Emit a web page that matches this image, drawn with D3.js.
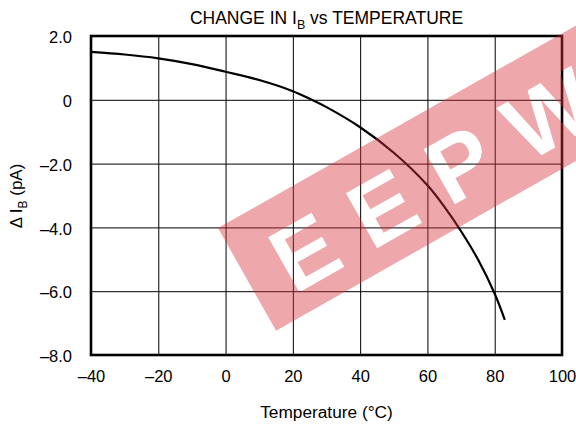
<!DOCTYPE html>
<html><head><meta charset="utf-8">
<script src="https://cdn.jsdelivr.net/npm/d3@7"></script>
<style>body{margin:0;background:#fff}svg{display:block}text{font-family:"Liberation Sans",Arial,sans-serif}</style>
</head><body><svg id="c" width="576" height="425"></svg>
<script>
const temps  = [-40, -30, -20, -10, 0, 10, 20, 25, 30, 40, 50, 60, 65, 70, 75, 80, 83];
const deltaIB = [1.5, 1.42, 1.3, 1.12, 0.88, 0.62, 0.27, 0.03, -0.23, -0.86, -1.66, -2.68, -3.35, -4.12, -5.0, -6.08, -6.9];
const xTicks = [-40, -20, 0, 20, 40, 60, 80, 100];
const xTickLabels = ["–40", "–20", "0", "20", "40", "60", "80", "100"];
const yTicks = [-8, -6, -4, -2, 0, 2];
const yTickLabels = ["–8.0", "–6.0", "–4.0", "–2.0", "0", "2.0"];

const svg = d3.select("#c");
const FONT = "Liberation Sans, Arial, sans-serif";
const L = 91, R = 562, T = 36, B = 355;
const x = d3.scaleLinear().domain([-40, 100]).range([L, R]);
const y = d3.scaleLinear().domain([-8, 2]).range([B, T]);

// grid
const gx = svg.append("g").attr("transform", `translate(0,${B})`)
  .call(d3.axisBottom(x).tickValues(xTicks).tickSize(-(B - T)).tickFormat(""));
gx.select(".domain").remove();
gx.selectAll("line").attr("stroke", "#000").attr("stroke-width", 1);
const gy = svg.append("g").attr("transform", `translate(${L},0)`)
  .call(d3.axisLeft(y).tickValues(yTicks).tickSize(-(R - L)).tickFormat(""));
gy.select(".domain").remove();
gy.selectAll("line").attr("stroke", "#000").attr("stroke-width", 1);

// curve
svg.append("path").datum(temps.map((t, i) => [t, deltaIB[i]]))
  .attr("fill", "none").attr("stroke", "#000").attr("stroke-width", 2.2)
  .attr("d", d3.line().x(d => x(d[0])).y(d => y(d[1])).curve(d3.curveCatmullRom));

// border
svg.append("rect").attr("x", L).attr("y", T).attr("width", R - L).attr("height", B - T)
  .attr("fill", "none").attr("stroke", "#000").attr("stroke-width", 2.6);

// watermark (pink band with knocked-out letters)
const wmT = "translate(218,228) rotate(-29.5)";
const m = svg.append("defs").append("mask").attr("id", "wm")
  .attr("maskUnits", "userSpaceOnUse").attr("x", 0).attr("y", 0).attr("width", 576).attr("height", 425);
const mg = m.append("g").attr("transform", wmT);
mg.append("rect").attr("x", 0).attr("y", 0).attr("width", 520).attr("height", 118).attr("fill", "#fff");
mg.append("text").attr("x", 33).attr("y", 96).attr("font-size", 92).attr("font-weight", "bold")
  .attr("font-family", FONT).attr("letter-spacing", 28).attr("fill", "#000").text("EEPW");
svg.append("rect").attr("x", 0).attr("y", 0).attr("width", 576).attr("height", 425)
  .attr("fill", "#d9303a").attr("opacity", 0.42).attr("mask", "url(#wm)");

// axis tick labels
const ax = svg.append("g").attr("transform", `translate(0,${B + 12})`)
  .call(d3.axisBottom(x).tickValues(xTicks).tickSize(0).tickFormat((d, i) => xTickLabels[i]));
ax.select(".domain").remove();
ax.selectAll("text").attr("font-size", 16.5).attr("fill", "#000").attr("font-family", FONT).attr("dy", "0.71em");
const ay = svg.append("g").attr("transform", `translate(${L - 16},1.5)`)
  .call(d3.axisLeft(y).tickValues(yTicks).tickSize(0).tickFormat((d, i) => yTickLabels[i]));
ay.select(".domain").remove();
ay.selectAll("text").attr("font-size", 16.5).attr("fill", "#000").attr("font-family", FONT);

// title
const title = svg.append("text").attr("x", (L + R) / 2).attr("y", 24).attr("text-anchor", "middle")
  .attr("font-size", 17.5);
title.append("tspan").text("CHANGE IN I");
title.append("tspan").attr("font-size", 12.5).attr("dy", 5).text("B");
title.append("tspan").attr("dy", -5).text(" vs TEMPERATURE");

// x label
svg.append("text").attr("x", (L + R) / 2).attr("y", 418).attr("text-anchor", "middle")
  .attr("font-size", 17.3).text("Temperature (°C)");

// y label
const yl = svg.append("text").attr("transform", `translate(22,196) rotate(-90)`)
  .attr("text-anchor", "middle").attr("font-size", 17);
yl.append("tspan").text("Δ I");
yl.append("tspan").attr("font-size", 12).attr("dy", 5).text("B");
yl.append("tspan").attr("dy", -5).text(" (pA)");
</script></body></html>
